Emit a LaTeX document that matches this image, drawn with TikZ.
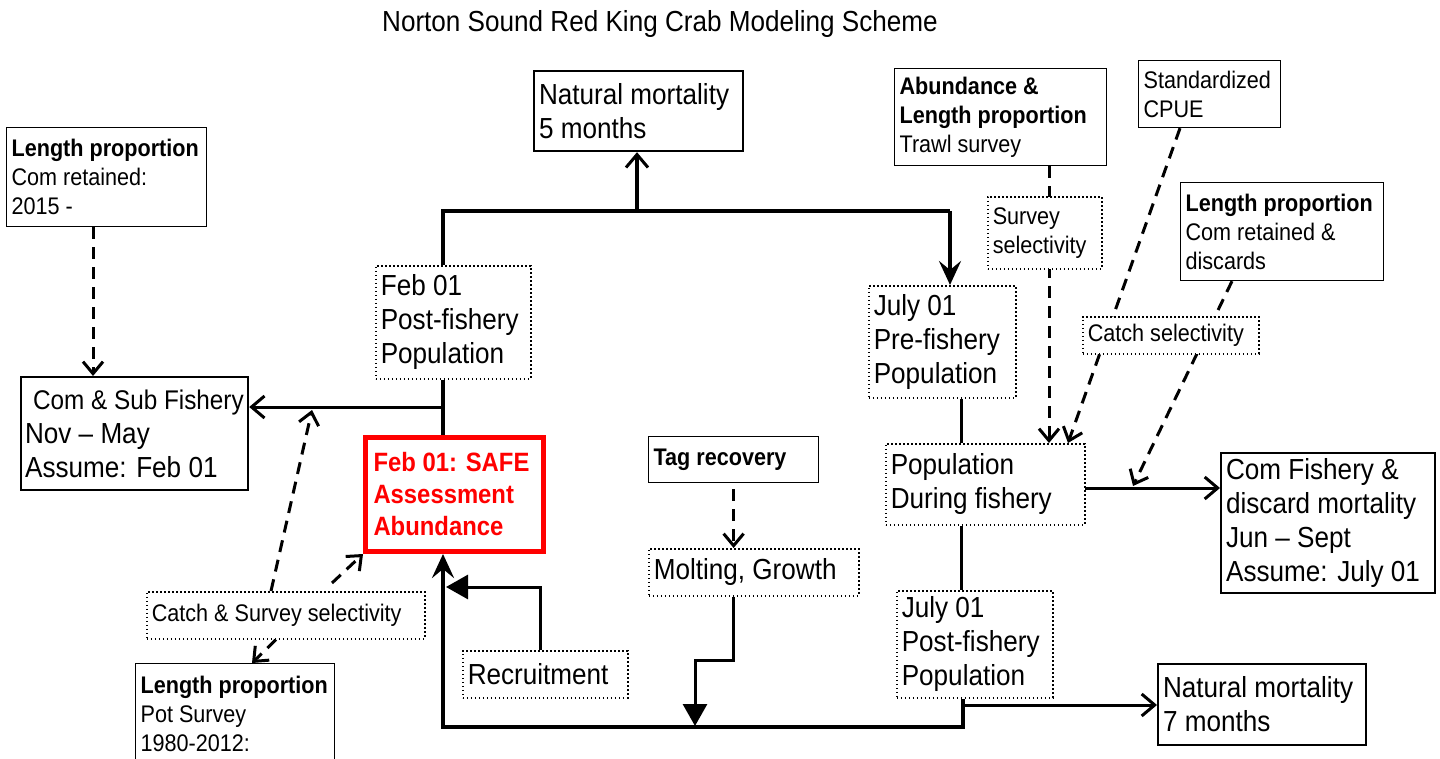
\documentclass[tikz,border=0pt]{standalone}
\usepackage{fontspec}
\setmainfont[FakeStretch=0.9]{Liberation Sans}
\usetikzlibrary{arrows.meta,calc}
\pgfdeclarelayer{bg}
\pgfsetlayers{bg,main}
\newcommand\szS{\fontsize{24}{29}\selectfont\spaceskip=0pt\xspaceskip=0pt}
\newcommand\szL{\fontsize{29}{34}\selectfont\spaceskip=0pt\xspaceskip=0pt}
\newcommand\szT{\fontsize{29}{32}\selectfont}
\newcommand\szR{\fontsize{26.5}{32}\selectfont\bfseries\spaceskip=0pt\xspaceskip=0pt}
\begin{document}
\begin{tikzpicture}[x=1pt,y=-1pt,
  bx/.style={anchor=north west, inner xsep=5pt, inner ysep=0pt, align=flush left, fill=white,
    execute at begin node={\hyphenpenalty=10000\exhyphenpenalty=10000}},
  solidbox/.style={bx, draw, line width=1.2pt},
  thickbox/.style={bx, draw, line width=2.2pt},
  dotbox/.style={bx, draw, line width=1.6pt, dash pattern=on 1.6pt off 2.4pt},
  main/.style={line width=4pt},
  med/.style={line width=3pt},
  dsh/.style={line width=3pt, dash pattern=on 12pt off 8pt},
  oarr/.style={-{Straight Barb[length=13pt,width=22pt,line width=3pt]}},
  darr/.style={-{Straight Barb[length=12pt,width=20pt,line width=3pt]}},
  sarr/.style={-{Stealth[length=24pt,width=22pt,inset=9pt]}},
  tarr/.style={-{Triangle[length=22pt,width=24pt]}}
]
\useasboundingbox (0,0) rectangle (1440,759);

\node[font=\szT] (title) at (660,24) {Norton Sound Red King Crab Modeling Scheme};

% boxes
\node[solidbox, font=\szS, text width=190pt, minimum height=99pt] (LP1) at (6,127)
  {\textbf{Length proportion}\\Com retained:\\2015 -};
\node[thickbox, font=\szL, inner xsep=4pt, text width=219pt, minimum height=113pt] (ComSub) at (20,376)
  {\mbox{\hspace*{8pt}\fontsize{27}{34}\selectfont Com \& Sub Fishery}\\Nov -- May\\Assume: Feb 01};
\node[thickbox, font=\szL, text width=199pt, minimum height=80pt] (NM5) at (533,70)
  {Natural mortality\\5 months};
\node[solidbox, font=\szS, text width=202pt, minimum height=97pt] (Abund) at (894,68)
  {\textbf{Abundance \&}\\\textbf{Length proportion}\\Trawl survey};
\node[solidbox, font=\szS, text width=132pt, minimum height=67pt] (CPUE) at (1138,60)
  {Standardized\\CPUE};
\node[solidbox, font=\szS, text width=193pt, minimum height=98pt] (LP2) at (1180,182)
  {\textbf{Length proportion}\\Com retained \&\\discards};
\node[dotbox, font=\szS, text width=104pt, minimum height=72pt] (SurvSel) at (987,196)
  {Survey\\selectivity};
\node[dotbox, font=\szS, text width=166pt, minimum height=37pt] (CatchSel) at (1082,316)
  {Catch selectivity};
\node[dotbox, font=\szL, text width=145pt, minimum height=113pt] (Feb01) at (375,265)
  {Feb 01\\Post-fishery\\Population};
\node[dotbox, font=\szL, text width=137pt, minimum height=112pt] (JulPre) at (868,285)
  {July 01\\Pre-fishery\\Population};
\node[dotbox, font=\szL, text width=189pt, minimum height=81pt] (PopDur) at (885,443)
  {Population\\During fishery};
\node[thickbox, font=\szL, text width=204pt, minimum height=140pt] (ComFish) at (1220,452)
  {Com Fishery \&\\discard mortality\\Jun -- Sept\\Assume: July 01};
\node[dotbox, font=\szL, text width=146pt, minimum height=107pt] (JulPost) at (896,590)
  {July 01\\Post-fishery\\Population};
\node[thickbox, font=\szL, text width=198pt, minimum height=81pt] (NM7) at (1157,663)
  {Natural mortality\\7 months};
\node[bx, draw=red, line width=5pt, inner xsep=8pt, font=\szR, text width=162pt, minimum height=114pt, text=red] (SAFE) at (363,435)
  {Feb 01: SAFE\\Assessment\\Abundance};
\node[solidbox, font=\szS, text width=160pt, minimum height=46pt] (Tag) at (648,436)
  {\textbf{Tag recovery}};
\node[dotbox, font=\szL, text width=200pt, minimum height=47pt] (Molt) at (648,548)
  {Molting, Growth};
\node[dotbox, font=\szL, text width=155pt, minimum height=47pt] (Recruit) at (462,650)
  {Recruitment};
\node[dotbox, font=\szS, text width=268pt, minimum height=47pt] (CSSel) at (146,591)
  {Catch \& Survey selectivity};
\node[solidbox, font=\szS, text width=189pt, minimum height=100pt] (LP3) at (135,663)
  {\textbf{Length proportion}\\Pot Survey\\1980-2012:};

% coordinates
\coordinate (tl) at (443,211);
\coordinate (tr) at (950,211);
\coordinate (tm) at (637,211);
\coordinate (cf) at (443,407);
\coordinate (cfd) at (312,410);
\coordinate (bl) at (443,727);
\coordinate (br) at (963,727);
\coordinate (n7) at (963,705);
\coordinate (rc) at (540,587);
\coordinate (rt) at (446,587);
\coordinate (mc) at (733,660);
\coordinate (mc2) at (695,660);
\coordinate (d1) at (93,0);
\coordinate (sx) at (1049,0);
\coordinate (jx) at (961,0);
\coordinate (pe) at (1084,488);
\coordinate (pd) at (1133,486);

\begin{pgfonlayer}{bg}
% solid connectors
\draw[main] (Feb01.north -| tl) -- (tl) -- (tr);
\draw[main,sarr] (tr) -- (JulPre.north -| tr);
\draw[main,oarr] (tm) -- (NM5.south -| tm);
\draw[main] (Feb01.south -| tl) -- (SAFE.north -| tl);
\draw[med,oarr] (cf) -- (cf -| ComSub.east);
\draw[main,sarr] (JulPost.south -| br) -- (br) -- (bl) -- (SAFE.south -| bl);
\draw[med,oarr] (n7) -- (n7 -| NM7.west);
\draw[med,tarr] (Recruit.north -| rc) -- (rc) -- (rt);
\draw[med,tarr,shorten >=1pt] (Molt.south -| mc) -- (mc) -- (mc2) -- (mc2 |- bl);
\draw[med] (JulPre.south -| jx) -- (PopDur.north -| jx);
\draw[med] (PopDur.south -| jx) -- (JulPost.north -| jx);
\draw[med,oarr] (pe) -- (pe -| ComFish.west);
% dashed connectors
\draw[dsh,darr] (LP1.south -| d1) -- (ComSub.north -| d1);
\draw[dsh,darr] ($(CSSel.north west)+(125,0)$) -- (cfd);
\draw[dsh,darr] ($(CSSel.north west)+(186,-8)$) -- (SAFE.south west);
\draw[dsh,darr] ($(CSSel.south west)+(130,0)$) -- ($(LP3.north west)+(117,0)$);
\draw[dsh,darr] ($(Tag.south)+(0,6)$) -- (Molt.north -| Tag.south);
\draw[dsh,darr] (Abund.south -| sx) -- (PopDur.north -| sx);
\draw[dsh,darr] ($(CPUE.south west)+(42,0)$) -- ($(PopDur.north west)+(183,0)$);
\draw[dsh,darr] ($(LP2.south west)+(52,0)$) -- (pd);
\end{pgfonlayer}
\end{tikzpicture}
\end{document}
